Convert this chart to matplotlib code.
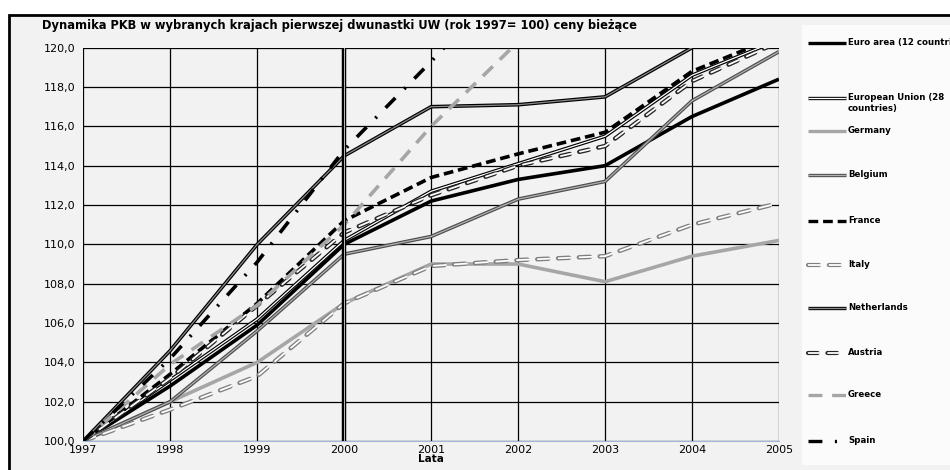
import matplotlib
matplotlib.use("Agg")
import matplotlib.pyplot as plt
from matplotlib.patches import Rectangle
from matplotlib.ticker import FuncFormatter

plt.rcParams['font.family'] = ['DejaVu Sans']
plt.rcParams['lines.scale_dashes'] = False

# dane: PKB, rok 1997 = 100
years = [1997, 1998, 1999, 2000, 2001, 2002, 2003, 2004, 2005]
euro_area = [100, 102.8, 105.9, 110.0, 112.2, 113.3, 114.0, 116.5, 118.4]
eu28 = [100, 103.1, 106.2, 110.2, 112.7, 114.1, 115.5, 118.6, 120.4]
germany = [100, 102.0, 104.0, 107.0, 109.0, 109.0, 108.1, 109.4, 110.2]
belgium = [100, 102.0, 105.6, 109.5, 110.4, 112.3, 113.2, 117.3, 119.8]
france = [100, 103.4, 107.0, 111.2, 113.4, 114.6, 115.7, 118.8, 120.6]
italy = [100, 101.6, 103.3, 107.0, 108.9, 109.2, 109.4, 111.0, 112.1]
netherlands = [100, 104.6, 110.0, 114.5, 117.0, 117.1, 117.5, 120.0, 121.8]
austria = [100, 103.2, 106.9, 110.6, 112.5, 114.0, 115.0, 118.3, 120.3]
greece = [100, 103.9, 106.9, 111.0, 116.0, 120.3, 125.0, 129.5, 132.5]
spain = [100, 104.2, 109.1, 114.8, 119.3, 124.0, 129.0, 134.5, 140.0]

labels = ['Euro area (12 countries)', 'European Union (28\ncountries)', 'Germany',
          'Belgium', 'France', 'Italy', 'Netherlands', 'Austria', 'Greece', 'Spain']
series = [euro_area, eu28, germany, belgium, france, italy, netherlands, austria, greece, spain]

# styl: (kolor zewn., dashes, kolor wewn. lub None)
styles = [
    ('black', None, None),
    ('black', None, 'white'),
    ('#a6a6a6', None, None),
    ('#4d4d4d', None, '#b0b0b0'),
    ('black', (7, 3.5), None),
    ('#7f7f7f', (8, 7), 'white'),
    ('black', None, '#8a8a8a'),
    ('#262626', (7, 7), 'white'),
    ('#a6a6a6', (10, 7), None),
    ('black', (10, 9, 1.5, 9), None),
]

fig = plt.figure(figsize=(9.5, 4.7), dpi=100)
fig.patch.set_facecolor('white')
bg = Rectangle((9 / 950, -0.01), 1, 1 - 15 / 470 + 0.01, transform=fig.transFigure,
               facecolor='#f2f2f2', edgecolor='black', lw=2, zorder=-10)
fig.add_artist(bg)

ax = fig.add_axes([83.3 / 950, 1 - 441 / 470, (779 - 83.3) / 950, (441 - 47.7) / 470])
ax.set_facecolor('#f2f2f2')


def draw(a, x, y, st, lw=2.6):
    col, dash, inner = st
    if dash is None:
        a.plot(x, y, color=col, lw=lw, solid_capstyle='butt')
        if inner is not None:
            a.plot(x, y, color=inner, lw=0.9, solid_capstyle='butt')
        return
    if inner is None:
        a.plot(x, y, color=col, lw=lw, linestyle=(0, dash), dash_capstyle='butt')
        return
    # puste (obrysowane) kreski
    on, off = dash
    a.plot(x, y, color=col, lw=lw + 0.6, linestyle=(0, dash), dash_capstyle='round')
    a.plot(x, y, color=inner, lw=1.3, linestyle=(on + off - 0.4, (on + 0.8, off - 0.8)),
           dash_capstyle='round')


for vals, st in zip(series, styles):
    draw(ax, years, vals, st)

# pionowa linia 2000
ax.axvline(2000, color='black', lw=3.2, zorder=5)
ax.axvline(2000, color='#bdbdbd', lw=0.7, zorder=6)

ax.set_xlim(1997, 2005)
ax.set_ylim(100, 120)
ax.set_xticks(years)
ax.set_yticks(range(100, 121, 2))
ax.yaxis.set_major_formatter(FuncFormatter(lambda v, p: f'{v:.1f}'.replace('.', ',')))
ax.grid(True, color='black', lw=0.9)
ax.set_axisbelow(True)
ax.tick_params(length=0, labelsize=8, pad=3)
ax.tick_params(axis='y', pad=6)
for s in ['top', 'right', 'left']:
    ax.spines[s].set_visible(False)
ax.spines['bottom'].set_color('#9db9dd')
ax.set_xlabel('Lata', fontsize=7.5, fontweight='bold', labelpad=-1)

fig.text(42 / 950, 1 - 26 / 470, 'Dynamika PKB w wybranych krajach pierwszej dwunastki UW (rok 1997= 100) ceny bieżące',
         fontsize=8.3, fontweight='bold', va='center')

# legenda
lax = fig.add_axes([802 / 950, 5 / 470, 148 / 950, 440 / 470])
lax.set_xlim(802, 950)
lax.set_ylim(465, 25)
lax.set_facecolor('#fbfbfb')
for s in lax.spines.values():
    s.set_visible(False)
lax.set_xticks([])
lax.set_yticks([])
leg_y = [43, 98, 131, 175, 221, 265, 308, 353, 395, 441]
for yy, lab, st in zip(leg_y, labels, styles):
    draw(lax, [808, 846], [yy, yy], st, lw=2.4)
    lax.text(848, yy - 1 if '\n' not in lab else yy + 5, lab, fontsize=6.2, fontweight='bold',
             va='center', ha='left', linespacing=1.3, clip_on=False)

fig.savefig('out.png', dpi=100)
